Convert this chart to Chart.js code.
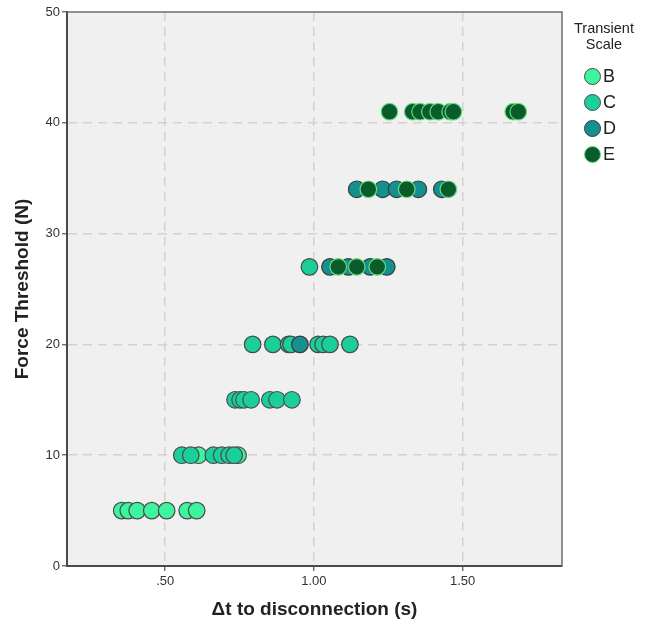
<!DOCTYPE html>
<html>
<head>
<meta charset="utf-8">
<script src="https://cdn.jsdelivr.net/npm/chart.js@4/dist/chart.umd.min.js"></script>
<style>
    body { margin: 0; background: #fff; }
    #wrap { position: relative; width: 645px; height: 628px; font-family: "Liberation Sans", Arial, sans-serif; }
    #legend { position: absolute; left: 563px; top: 20px; width: 82px; color: #222; }
    #legend .title { text-align: center; font-size: 14.5px; line-height: 16px; }
    #legend .item { position: absolute; left: 21px; height: 20px; font-size: 18px; line-height: 20px; color: #222; }
    #legend .dot { display: inline-block; width: 17px; height: 17px; border-radius: 50%; vertical-align: -3px; margin-right: 2px; box-sizing: border-box; }
</style>
</head>
<body>
<div id="wrap">
    <canvas id="scatterChart" width="645" height="628"></canvas>
    <div id="legend"></div>
</div>
<script>
// Tick values
const xTicks = [0.5, 1.0, 1.5];
const yTicks = [0, 10, 20, 30, 40, 50];

// Transient scale categories
const scaleNames = ['B', 'C', 'D', 'E'];

// Series B
const dtB = [0.354, 0.376, 0.406, 0.455, 0.505, 0.574, 0.606, 0.612, 0.745];
const forceB = [5, 5, 5, 5, 5, 5, 5, 10, 10];

// Series C
const dtC = [0.556, 0.586, 0.662, 0.690, 0.715, 0.732,
             0.735, 0.752, 0.765, 0.789, 0.852, 0.876, 0.926,
             0.794, 0.862, 0.915, 0.923, 1.014, 1.031, 1.054, 1.121,
             0.985];
const forceC = [10, 10, 10, 10, 10, 10,
                15, 15, 15, 15, 15, 15, 15,
                20, 20, 20, 20, 20, 20, 20, 20,
                27];

// Series D
const dtD = [0.953, 1.054, 1.116, 1.189, 1.245, 1.144, 1.231, 1.278, 1.351, 1.430];
const forceD = [20, 27, 27, 27, 27, 34, 34, 34, 34, 34];

// Series E
const dtE = [1.082, 1.144, 1.213, 1.183, 1.312, 1.452,
             1.254, 1.332, 1.357, 1.390, 1.418, 1.458, 1.469, 1.670, 1.687];
const forceE = [27, 27, 27, 34, 34, 34,
                41, 41, 41, 41, 41, 41, 41, 41, 41];

const fills = ['#3df59f', '#1bcf9b', '#14908f', '#0b5c2b'];
const borders = ['#4a4a4a', '#4a4a4a', '#3a3a3a', '#63dd80'];

function toPoints(xs, ys) {
    return xs.map((x, i) => ({ x: x, y: ys[i] }));
}

const seriesX = [dtB, dtC, dtD, dtE];
const seriesY = [forceB, forceC, forceD, forceE];

const datasets = scaleNames.map((name, i) => ({
    label: name,
    data: toPoints(seriesX[i], seriesY[i]),
    backgroundColor: fills[i],
    borderColor: borders[i],
    borderWidth: 1.2,
    pointRadius: 8.3,
    order: scaleNames.length - i // E drawn last (on top)
}));

// Plot background and frame
const plotFrame = {
    id: 'plotFrame',
    beforeDraw(chart) {
        const { ctx, chartArea: a } = chart;
        ctx.save();
        ctx.fillStyle = '#f0f0f0';
        ctx.fillRect(a.left, a.top, a.right - a.left, a.bottom - a.top);
        ctx.restore();
    },
    afterDatasetsDraw(chart) {
        const { ctx, chartArea: a } = chart;
        ctx.save();
        ctx.strokeStyle = '#6e6e6e';
        ctx.lineWidth = 1.5;
        ctx.beginPath();
        ctx.moveTo(a.left, a.top);
        ctx.lineTo(a.right, a.top);
        ctx.lineTo(a.right, a.bottom);
        ctx.stroke();
        ctx.restore();
    }
};

const tickFont = { family: '"Liberation Sans Narrow", "Liberation Sans", Arial, sans-serif', size: 13 };
const titleFont = { family: '"Liberation Sans", Arial, sans-serif', size: 19, weight: 'bold' };

const ctx = document.getElementById('scatterChart').getContext('2d');
new Chart(ctx, {
    type: 'scatter',
    data: { datasets: datasets },
    plugins: [plotFrame],
    options: {
        responsive: false,
        animation: false,
        layout: { autoPadding: false, padding: { top: 12, right: 83, left: 0, bottom: 0 } },
        plugins: {
            legend: { display: false },
            tooltip: { enabled: false }
        },
        scales: {
            x: {
                type: 'linear',
                min: 0.17,
                max: 1.834,
                afterBuildTicks: scale => { scale.ticks = xTicks.map(v => ({ value: v })); },
                afterFit: scale => { scale.height = 62; },
                ticks: {
                    color: '#333',
                    font: tickFont,
                    padding: 3,
                    maxRotation: 0,
                    callback: value => value.toFixed(2).replace(/^0/, '')
                },
                grid: {
                    color: '#d2d2d2',
                    lineWidth: 1.5,
                    tickColor: '#555',
                    tickLength: 5,
                    tickWidth: 1.2
                },
                border: { color: '#4a4a4a', width: 2, dash: [9, 6] },
                title: {
                    display: true,
                    text: 'Δt to disconnection (s)',
                    color: '#222',
                    font: titleFont,
                    padding: { top: 0, bottom: 7 }
                }
            },
            y: {
                type: 'linear',
                min: 0,
                max: 50,
                afterBuildTicks: scale => { scale.ticks = yTicks.map(v => ({ value: v })); },
                afterFit: scale => { scale.width = 67; },
                ticks: {
                    color: '#333',
                    font: tickFont,
                    padding: 2
                },
                grid: {
                    color: c => (c.tick && (c.tick.value === 0 || c.tick.value === 50)) ? 'rgba(0,0,0,0)' : '#d2d2d2',
                    lineWidth: 1.5,
                    tickColor: '#555',
                    tickLength: 5,
                    tickWidth: 1.2
                },
                border: { color: '#4a4a4a', width: 2, dash: [9, 6] },
                title: {
                    display: true,
                    text: 'Force Threshold (N)',
                    color: '#222',
                    font: titleFont,
                    padding: { top: 11, bottom: 0 }
                }
            }
        }
    }
});

// Legend (HTML, two-line title like the original)
const legend = document.getElementById('legend');
legend.innerHTML = '<div class="title">Transient<br>Scale</div>';
scaleNames.forEach((name, i) => {
    const item = document.createElement('div');
    item.className = 'item';
    item.style.top = (46 + i * 26) + 'px';
    item.innerHTML = '<span class="dot" style="background:' + fills[i] + ';border:1.2px solid ' + borders[i] + '"></span>' + name;
    legend.appendChild(item);
});
</script>
</body>
</html>
